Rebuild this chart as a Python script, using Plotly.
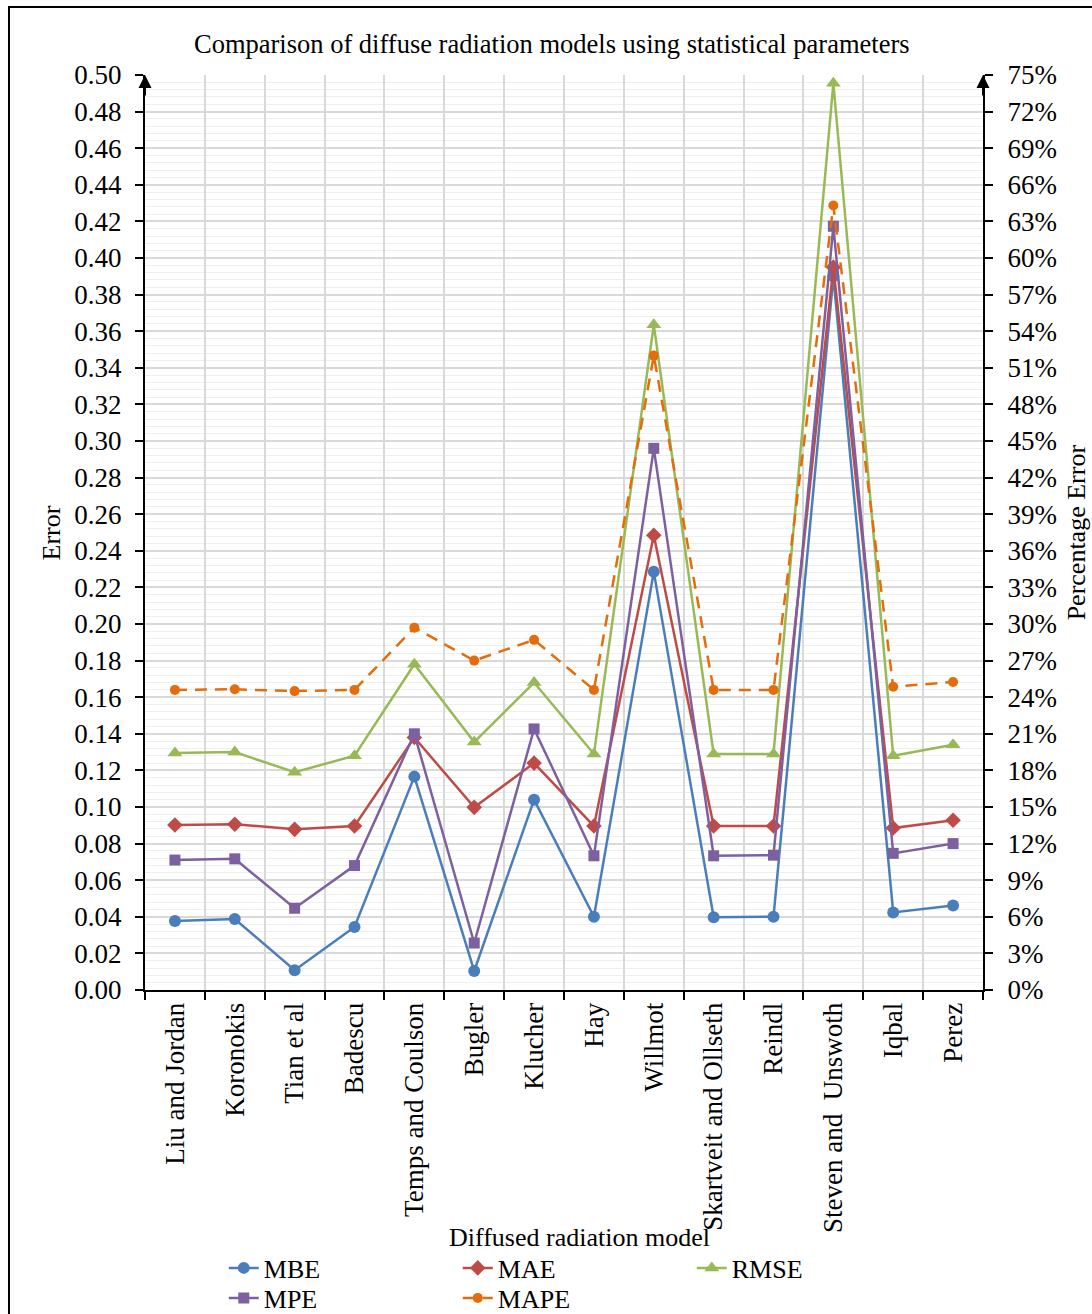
import plotly.graph_objects as go

# Diffuse radiation models compared on the x axis
models = ["Liu and Jordan", "Koronokis", "Tian et al", "Badescu", "Temps and Coulson",
          "Bugler", "Klucher", "Hay", "Willmot", "Skartveit and Ollseth", "Reindl",
          "Steven and  Unswoth", "Iqbal", "Perez"]

# Absolute error statistics (left axis)
mbe = [0.0377, 0.0388, 0.0108, 0.0344, 0.1166, 0.0104, 0.1040, 0.0400, 0.2285,
       0.0398, 0.0400, 0.3900, 0.0424, 0.0462]
mae = [0.0902, 0.0906, 0.0878, 0.0896, 0.1380, 0.0998, 0.1240, 0.0896, 0.2485,
       0.0896, 0.0896, 0.3950, 0.0885, 0.0928]
rmse = [0.1295, 0.1300, 0.1190, 0.1280, 0.1780, 0.1355, 0.1680, 0.1290, 0.3635,
        0.1290, 0.1290, 0.4955, 0.1280, 0.1340]

# Percentage error statistics (right axis, %)
mpe = [10.65, 10.75, 6.7, 10.2, 21.0, 3.85, 21.4, 11.0, 44.4, 11.0, 11.05, 62.6, 11.2, 12.0]
mape = [24.6, 24.65, 24.5, 24.6, 29.7, 27.0, 28.7, 24.6, 52.0, 24.6, 24.6, 64.3, 24.85, 25.25]

FONT = "Liberation Serif"

fig = go.Figure()


def add_series(name, values, color, symbol, size, axis="y", dash="solid", legend="legend"):
    fig.add_trace(go.Scatter(
        x=models, y=values, name=name, mode="lines+markers", yaxis=axis,
        legend=legend,
        line=dict(color=color, width=2.5, dash=dash),
        marker=dict(symbol=symbol, size=size, color=color),
    ))


add_series("MBE", mbe, "#4A7EBB", "circle", 12)
add_series("MAE", mae, "#BE4B48", "diamond", 12)
add_series("RMSE", rmse, "#98B954", "triangle-up", 13)
add_series("MPE", mpe, "#7D60A0", "square", 11, axis="y2", legend="legend2")
add_series("MAPE", mape, "#E46C0A", "circle", 10, axis="y2", dash="12px,8px",
           legend="legend2")

tick_font = dict(family=FONT, size=27, color="black")
grid = "#d9d9d9"
n = len(models)
boundaries = [i - 0.5 for i in range(n + 1)]

legend_style = dict(orientation="h", x=0.094, xanchor="left", yanchor="middle",
                    entrywidth=189, entrywidthmode="pixels", tracegroupgap=0,
                    font=dict(family=FONT, size=26), bgcolor="rgba(0,0,0,0)")

fig.update_layout(
    width=1092, height=1314,
    margin=dict(l=145, r=109, t=75, b=324, autoexpand=False),
    paper_bgcolor="white", plot_bgcolor="white",
    font=dict(family=FONT, size=27, color="black"),
    showlegend=True,
    legend=dict(legend_style, y=-0.3038),
    legend2=dict(legend_style, y=-0.3366),
    xaxis=dict(type="category", categoryarray=models, range=[-0.5, n - 0.5],
               tickson="boundaries", ticks="outside", ticklen=8, tickwidth=2,
               tickcolor="black", showgrid=True, gridcolor=grid, gridwidth=1.5,
               showline=True, linecolor="black", linewidth=2, tickangle=-90,
               tickfont=tick_font, zeroline=False),
    yaxis=dict(range=[0, 0.5], dtick=0.02, tick0=0, tickformat=".2f",
               ticks="outside", ticklen=8, tickwidth=2, tickcolor="black",
               ticklabelstandoff=8,
               showgrid=True, gridcolor=grid, gridwidth=1.5,
               minor=dict(dtick=0.004, showgrid=True, gridcolor="#efefef", gridwidth=1),
               showline=True, linecolor="black", linewidth=2, zeroline=False,
               tickfont=tick_font),
    yaxis2=dict(range=[0, 75], dtick=3, tick0=0, ticksuffix="%", overlaying="y",
                side="right", ticks="outside", ticklen=8, tickwidth=2,
                tickcolor="black", ticklabelstandoff=9, showgrid=False,
                showline=True, linecolor="black", linewidth=2, zeroline=False,
                tickfont=tick_font),
    # inner halves of the crossing tick marks
    yaxis3=dict(range=[0, 0.5], dtick=0.02, tick0=0, overlaying="y", side="left",
                ticks="inside", ticklen=8, tickwidth=2, tickcolor="black",
                showticklabels=False, showgrid=False, showline=False, zeroline=False),
    yaxis4=dict(range=[0, 75], dtick=3, tick0=0, overlaying="y", side="right",
                ticks="inside", ticklen=8, tickwidth=2, tickcolor="black",
                showticklabels=False, showgrid=False, showline=False, zeroline=False),
    xaxis2=dict(range=[-0.5, n - 0.5], overlaying="x", side="bottom",
                tickvals=boundaries, ticks="inside", ticklen=8, tickwidth=2,
                tickcolor="black", showticklabels=False, showgrid=False,
                showline=False, zeroline=False),
)

annotations = [
    dict(text="Comparison of diffuse radiation models using statistical parameters",
         x=0.486, y=1.034, xref="paper", yref="paper", showarrow=False,
         font=dict(family=FONT, size=26.5), xanchor="center", yanchor="middle"),
    dict(text="Error", x=-0.111, y=0.5, xref="paper", yref="paper", showarrow=False,
         textangle=-90, font=dict(family=FONT, size=26), xanchor="center", yanchor="middle"),
    dict(text="Percentage Error", x=1.112, y=0.5, xref="paper", yref="paper",
         showarrow=False, textangle=-90, font=dict(family=FONT, size=26),
         xanchor="center", yanchor="middle"),
    dict(text="Diffused radiation model", x=0.519, y=-0.27, xref="paper", yref="paper",
         showarrow=False, font=dict(family=FONT, size=26), xanchor="center",
         yanchor="middle"),
]
# arrow heads at the top of both value axes
for ax_x in (0, 1):
    annotations.append(dict(x=ax_x, y=1, xref="paper", yref="paper", ax=0, ay=22,
                            showarrow=True, arrowhead=2, arrowsize=1.3, arrowwidth=2,
                            arrowcolor="black", text=""))
fig.update_layout(annotations=annotations)

# outer frame
fig.add_shape(type="rect", xref="paper", yref="paper", x0=-0.1623, x1=1.25,
              y0=-0.6, y1=1.0743, line=dict(color="black", width=2),
              fillcolor="rgba(0,0,0,0)", layer="above")

fig.write_html("out.html")
